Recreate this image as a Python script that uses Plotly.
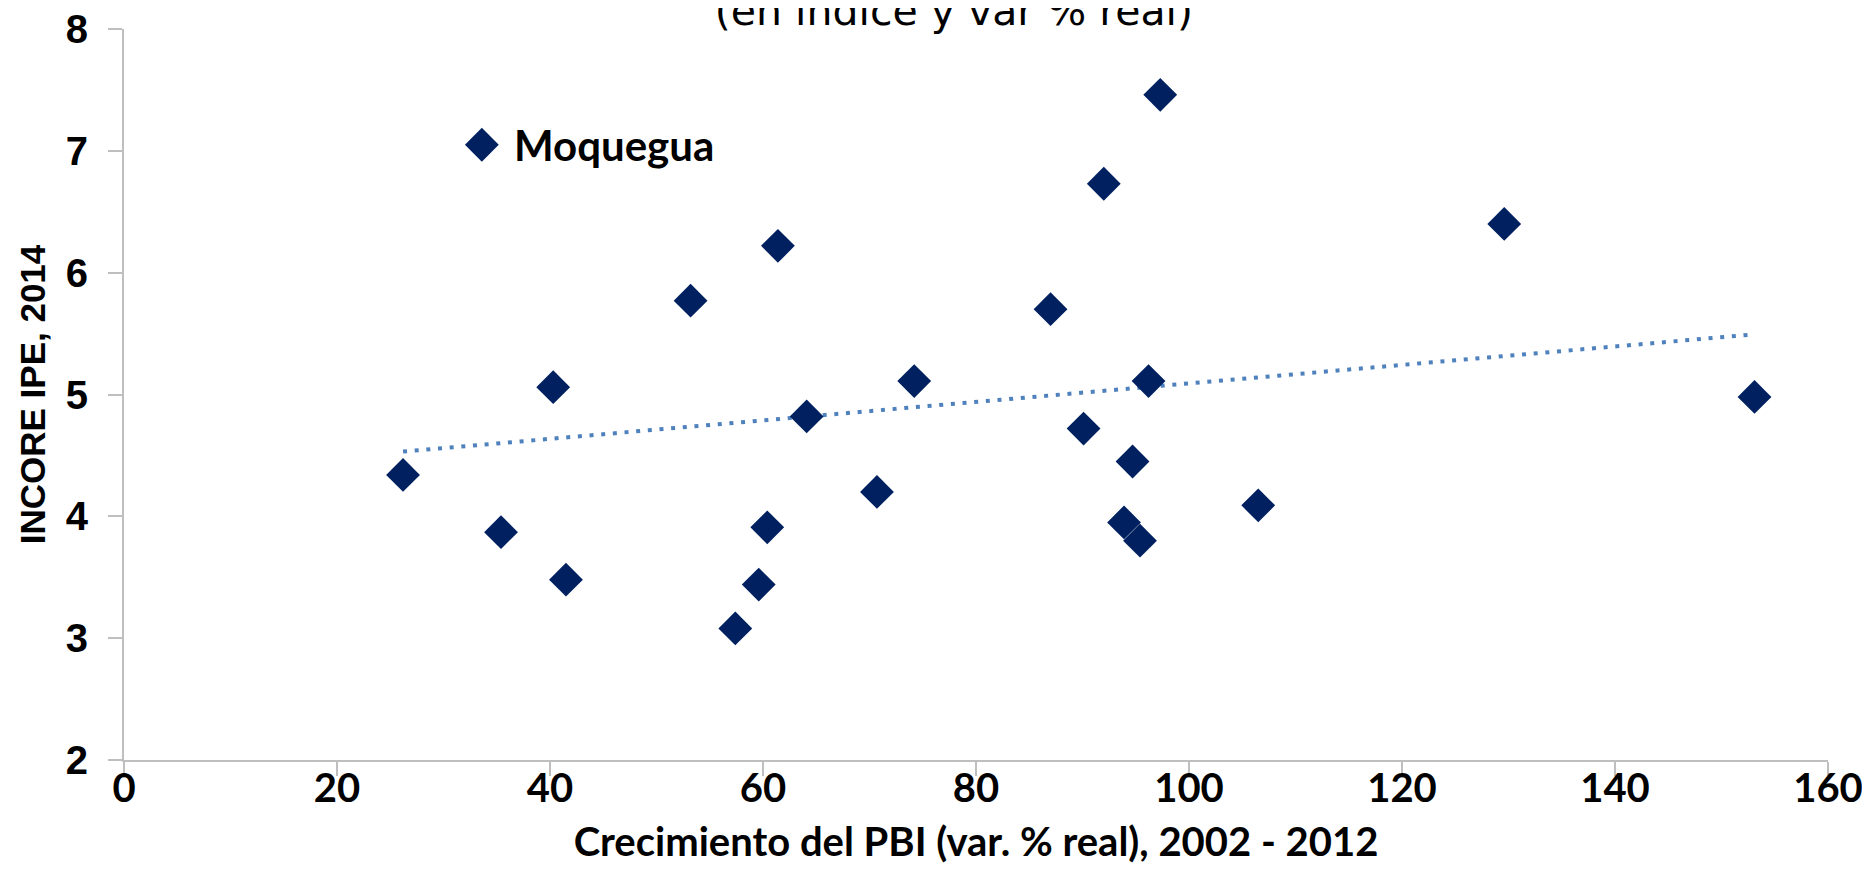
import numpy as np
import plotly.graph_objects as go

# Data
pbi_growth = [33.6, 61.4, 53.2, 97.3, 92.0, 87.0, 129.6, 26.2, 40.3, 64.1, 35.4, 41.5,
              60.4, 59.6, 57.4, 74.2, 96.2, 90.1, 94.7, 70.7, 93.9, 95.4, 106.5, 153.1]
incore = [7.05, 6.22, 5.77, 7.46, 6.73, 5.70, 6.40, 4.34, 5.06, 4.82, 3.87, 3.48,
          3.91, 3.44, 3.08, 5.11, 5.11, 4.72, 4.45, 4.20, 3.95, 3.80, 4.09, 4.98]
labels = ["Moquegua"] + [""] * 23

x_ticks = [0, 20, 40, 60, 80, 100, 120, 140, 160]
y_ticks = [2, 3, 4, 5, 6, 7, 8]

title_text = "(en índice y var % real)"
x_title = "Crecimiento del PBI (var. % real), 2002 - 2012"
y_title = "INCORE IPE, 2014"

MARKER = "#002060"
TREND = "#4F81BD"
AXIS = "#BFBFBF"
GEO = "Lato, 'DejaVu Sans', sans-serif"
WIDE = "'DejaVu Sans', sans-serif"
ARIAL = "'Liberation Sans', Arial, sans-serif"

# linear trend (least squares) over the data range
slope, intercept = np.polyfit(pbi_growth, incore, 1)
tx = np.array([min(pbi_growth), max(pbi_growth)])
ty = slope * tx + intercept

fig = go.Figure()
fig.add_trace(go.Scatter(
    x=tx, y=ty, mode="lines",
    line=dict(color=TREND, width=4, dash="4px,7.7px"),
    hoverinfo="skip", showlegend=False,
))
fig.add_trace(go.Scatter(
    x=pbi_growth, y=incore, mode="markers",
    text=labels,
    marker=dict(symbol="diamond", size=26, color=MARKER, line=dict(width=0)),
    showlegend=False,
))

for xv, yv, lab in zip(pbi_growth, incore, labels):
    if lab:
        fig.add_annotation(
            x=xv, y=yv, xref="x", yref="y", text=lab, showarrow=False,
            xanchor="left", yanchor="middle", xshift=30,
            font=dict(family=GEO, size=42, color="black", weight="bold"),
        )

# the page body adds an 8px offset, so the figure is 8px smaller than the window
fig.update_layout(
    width=1862, height=884,
    margin=dict(l=116, r=42, t=21, b=132),
    paper_bgcolor="white", plot_bgcolor="white",
    title=dict(text=title_text, x=0.508, xanchor="center",
               y=1 - 17 / 884, yref="container", yanchor="bottom",
               font=dict(family=WIDE, size=41, color="black")),
)
fig.update_xaxes(
    range=[0, 160], tickvals=x_ticks, ticktext=[str(v) for v in x_ticks],
    automargin=False, ticklabeloverflow="allow",
    showgrid=False, zeroline=False,
    showline=True, linecolor=AXIS, linewidth=2,
    ticks="outside", ticklen=14, tickcolor=AXIS, tickwidth=2,
    ticklabelstandoff=-22,
    tickfont=dict(family=GEO, size=40, color="black", weight="bold"),
    title=dict(text=x_title, standoff=18,
               font=dict(family=GEO, size=40, color="black", weight="bold")),
)
fig.update_yaxes(
    range=[2, 8], tickvals=y_ticks, ticktext=[str(v) for v in y_ticks],
    automargin=False, ticklabeloverflow="allow",
    showgrid=False, zeroline=False,
    showline=True, linecolor=AXIS, linewidth=2,
    ticks="outside", ticklen=14, tickcolor=AXIS, tickwidth=2,
    ticklabelstandoff=12,
    tickfont=dict(family=ARIAL, size=40, color="black", weight="bold"),
    title=dict(text=y_title, standoff=10,
               font=dict(family=ARIAL, size=35, color="black", weight="bold")),
)

fig.write_html("out.html")
